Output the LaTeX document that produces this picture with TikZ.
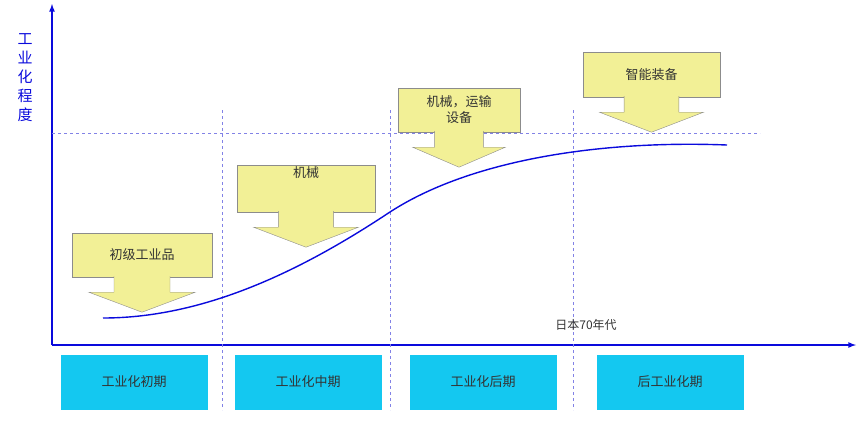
\documentclass[tikz,border=0pt]{standalone}
\usepackage{fontspec}
\newfontfamily\cjk{Noto Sans CJK SC}
\usetikzlibrary{calc}
\definecolor{axisblue}{RGB}{10,10,220}
\definecolor{dashblue}{RGB}{130,130,230}
\definecolor{stagecyan}{RGB}{20,200,240}
\definecolor{calloutfill}{RGB}{242,240,150}
\begin{document}
\begin{tikzpicture}[x=1pt,y=-1pt,font=\cjk\fontsize{13}{16}\selectfont]
    \tikzstyle{axis}=[draw=axisblue,line width=1.6pt,-latex]
    \tikzstyle{guide}=[draw=dashblue,dashed,line width=0.8pt]
    \tikzstyle{stagebox}=[fill=stagecyan,minimum width=147pt,minimum height=55pt,inner sep=0pt,text=black!80]
    \tikzstyle{calloutbox}=[draw=black!45,fill=calloutfill,inner sep=0pt,align=center,text=black!80]
    \useasboundingbox (0,0) rectangle (859,424);

    % axes
    \coordinate (O) at (52,345);
    \coordinate (Y) at (52,4);
    \coordinate (X) at (856,345);
    \draw[axis] (O) -- (Y);
    \draw[axis] (O) -- (X);
    \node[text=axisblue,align=center,font=\cjk\fontsize{15}{19}\selectfont] (ylab) at (25,78) {工\\业\\化\\程\\度};

    % guide lines
    \coordinate (L) at (52,133);
    \coordinate (R) at (760,133);
    \draw[guide] (L) -- (R);
    \foreach \x in {222,390,573}
        \draw[guide] (\x,110) -- (\x,410);

    % stages
    \node[stagebox] (S-1) at (134,382) {工业化初期};
    \node[stagebox] (S-2) at (308,382) {工业化中期};
    \node[stagebox] (S-3) at (483,382) {工业化后期};
    \node[stagebox] (S-4) at (670,382) {后工业化期};

    % curve
    \coordinate (C-a) at (103,318);
    \coordinate (C-b) at (390,212);
    \coordinate (C-c) at (727,145);
    \draw[axisblue,line width=1.4pt] (C-a) .. controls (210,318) and (310,265) .. (C-b)
        .. controls (470,160) and (600,140) .. (C-c);
    \node[text=black!80,font=\cjk\fontsize{12}{14}\selectfont] (era) at (586,325) {日本70年代};

    % callouts
    \foreach \n/\xa/\ya/\xb/\yb/\t in {1/72/233/212/277/初级工业品,
        2/237/165/375/212/{机械\\[16pt]},
        3/398/88/520/132/{机械，运输\\设备},
        4/583/52/720/97/智能装备}{
        \pgfmathsetmacro\cx{(\xa+\xb)/2}
        \pgfmathsetmacro\w{\xb-\xa}
        \pgfmathsetmacro\st{0.2*\w}
        \pgfmathsetmacro\hd{0.38*\w}
        \node[calloutbox,minimum width=\w pt,minimum height=\yb pt-\ya pt] (B-\n) at (\cx,{(\ya+\yb)/2}) {\t};
        \fill[calloutfill,draw=black!45] ($(B-\n.south)+(-\st,-1)$) -- ++(0,16) -- ($(B-\n.south)+(-\hd,15)$)
            -- ($(B-\n.south)+(0,35)$) -- ($(B-\n.south)+(\hd,15)$) -- ($(B-\n.south)+(\st,15)$) -- ++(0,-16);
    }
\end{tikzpicture}
\end{document}
